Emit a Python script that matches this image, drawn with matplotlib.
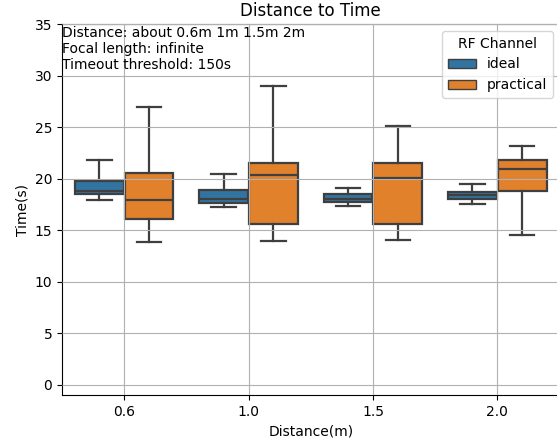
import matplotlib

matplotlib.use("Agg")
import matplotlib.pyplot as plt
from matplotlib.patches import Patch

distances = ["0.6", "1.0", "1.5", "2.0"]
channels = ["ideal", "practical"]

# box statistics: (low whisker, q1, median, q3, high whisker)
ideal_low = [17.9, 17.2, 17.3, 17.5]
ideal_q1 = [18.5, 17.6, 17.7, 18.0]
ideal_med = [18.8, 18.0, 18.0, 18.4]
ideal_q3 = [19.8, 18.9, 18.5, 18.7]
ideal_high = [21.8, 20.4, 19.1, 19.5]

prac_low = [13.8, 13.9, 14.0, 14.5]
prac_q1 = [16.1, 15.6, 15.6, 18.8]
prac_med = [17.9, 20.3, 20.1, 20.9]
prac_q3 = [20.5, 21.5, 21.5, 21.8]
prac_high = [26.9, 29.0, 25.1, 23.2]

colors = ["#3274a1", "#e1812c"]
edge = "#3f3f3f"
note = "Distance: about 0.6m 1m 1.5m 2m\nFocal length: infinite\nTimeout threshold: 150s"


def stats(low, q1, med, q3, high):
    return [dict(whislo=a, q1=b, med=c, q3=d, whishi=e, fliers=[])
            for a, b, c, d, e in zip(low, q1, med, q3, high)]


fig = plt.figure(figsize=(5.57, 4.42), dpi=100)
ax = fig.add_axes([62 / 557, 1 - 395 / 442, 497.5 / 557, 371 / 442])

groups = [stats(ideal_low, ideal_q1, ideal_med, ideal_q3, ideal_high),
          stats(prac_low, prac_q1, prac_med, prac_q3, prac_high)]
width = 0.4
for k, (st, col) in enumerate(zip(groups, colors)):
    pos = [i - 0.2 + k * width for i in range(len(distances))]
    ax.bxp(st, positions=pos, widths=width * 0.98, patch_artist=True,
           showfliers=False,
           boxprops=dict(facecolor=col, edgecolor=edge, linewidth=1.6),
           medianprops=dict(color=edge, linewidth=1.6),
           whiskerprops=dict(color=edge, linewidth=1.6),
           capprops=dict(color=edge, linewidth=1.6))

ax.set_xlim(-0.5, len(distances) - 0.5)
ax.set_ylim(-1, 35)
ax.set_xticks(range(len(distances)))
ax.set_xticklabels(distances)
ax.grid(True, color="#b0b0b0", linewidth=0.8)
ax.set_axisbelow(False)
ax.set_xlabel("Distance(m)")
ax.set_ylabel("Time(s)")
ax.set_title("Distance to Time", fontsize=12)
ax.text(0.0, 0.995, note, transform=ax.transAxes, ha="left", va="top",
        fontsize=10)

handles = [Patch(facecolor=c, edgecolor=edge, label=l)
           for c, l in zip(colors, channels)]
ax.legend(handles=handles, title="RF Channel", loc="upper right")

fig.savefig("out.png", dpi=100)
